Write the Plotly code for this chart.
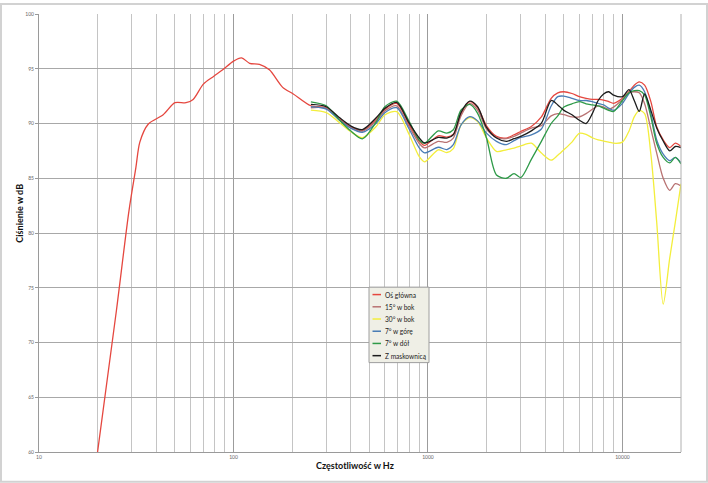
import plotly.graph_objects as go

# ---------------- data ----------------
freq_lf = [20, 25, 29, 31.5, 33, 36.5, 43.5, 50, 57, 62, 70, 79, 88, 100, 110, 121, 136, 153, 179, 203]
main_lf = [60.0, 72.9, 82.0, 86.0, 88.3, 89.95, 90.8, 91.9, 91.9, 92.2, 93.6, 94.3, 94.9, 95.7, 96.0, 95.5, 95.4, 94.9, 93.3, 92.7]

freq_hf = [250, 300, 350, 400, 460, 540, 600, 690, 800, 900, 960, 1130, 1250, 1350, 1480, 1640, 1800,
           2000, 2250, 2530, 2770, 3000, 3400, 3830, 4300, 4650, 5000, 5500, 6000, 6500, 7000, 7500,
           8000, 8500, 9000, 10000, 10800, 11500, 12200, 13000, 14000, 15000, 16200, 17500, 18700, 20000]

main_hf = [91.62, 91.44, 90.4, 89.7, 89.35, 90.35, 91.29, 91.83, 89.9, 88.4, 88.0, 88.88, 88.76, 89.03, 90.93, 91.99, 91.44,
           89.79, 88.82, 88.67, 88.97, 89.27, 89.73, 90.6, 92.3, 92.8, 92.9, 92.74, 92.45, 92.3, 92.2, 92.2,
           92.14, 92.0, 91.84, 92.3, 92.9, 93.5, 93.8, 93.5, 92.0, 89.7, 88.5, 87.8, 88.2, 87.9]

side15_hf = [91.44, 91.38, 90.33, 89.64, 89.3, 90.2, 91.14, 91.62, 89.7, 88.2, 87.77, 88.37, 88.28, 88.67, 90.72, 91.83, 91.23,
             89.49, 88.73, 88.61, 88.82, 89.12, 89.58, 89.8, 90.7, 90.9, 90.8, 90.6, 90.6, 90.9, 91.3, 91.6,
             91.5, 91.3, 91.5, 92.2, 92.8, 92.9, 92.8, 91.8, 89.5, 87.3, 85.0, 83.9, 84.5, 84.3]

side30_hf = [91.23, 91.0, 90.1, 89.27, 88.7, 89.7, 90.78, 91.08, 89.0, 87.0, 86.5, 87.6, 87.35, 87.7, 89.88, 90.54, 90.18,
             88.67, 87.45, 87.6, 87.75, 87.95, 88.2, 87.3, 86.65, 87.1, 87.6, 88.3, 89.1, 89.0, 88.7, 88.5,
             88.4, 88.3, 88.2, 88.3, 89.3, 90.6, 91.2, 90.9, 87.2, 81.0, 73.5, 77.7, 81.0, 84.5]

up7_hf = [91.53, 91.32, 90.33, 89.58, 89.2, 90.0, 90.99, 91.44, 89.5, 87.8, 87.32, 87.83, 87.62, 88.07, 89.88, 90.63, 90.24,
          89.12, 88.37, 88.07, 88.43, 88.73, 88.97, 89.5, 91.6, 92.45, 92.5, 92.3, 92.1, 92.1, 92.0, 91.84,
          91.7, 91.4, 91.2, 91.84, 92.74, 93.3, 93.5, 92.9, 90.9, 88.5, 87.2, 86.6, 86.9, 86.4]

down7_hf = [91.98, 91.62, 90.33, 89.33, 88.6, 90.1, 91.53, 92.04, 90.2, 88.5, 88.2, 89.33, 89.12, 89.43, 91.23, 91.74, 90.93,
            88.67, 85.30, 85.0, 85.42, 85.06, 86.72, 88.37, 90.0, 90.7, 91.5, 91.8, 92.0, 91.8, 91.7, 91.6,
            91.4, 91.2, 91.1, 92.1, 92.8, 93.0, 93.0, 92.6, 90.6, 88.2, 86.9, 86.4, 86.9, 86.3]

grille_hf = [91.74, 91.53, 90.54, 89.79, 89.45, 90.5, 91.38, 91.92, 90.05, 88.7, 88.22, 88.73, 88.67, 88.97, 91.02, 92.04, 91.53,
             89.64, 88.67, 88.37, 88.61, 88.82, 89.33, 90.03, 92.1, 91.7, 91.2, 90.8, 90.3, 90.0, 90.9, 92.1,
             92.7, 92.9, 92.6, 92.45, 93.1, 92.1, 91.1, 92.7, 91.2, 89.6, 88.4, 87.5, 87.9, 87.8]

series_names = ["Oś główna", "15° w bok", "30° w bok", "7° w górę", "7° w dół", "Z maskownicą"]
series_colors = ["#e5473f", "#b87272", "#f3ee3c", "#4a7db5", "#2e9a48", "#1c1c1c"]

x_decade_labels = [10, 100, 1000, 10000]
y_ticks = [60, 65, 70, 75, 80, 85, 90, 95, 100]

# ---------------- figure ----------------
W, H = 708, 483
L, R, T, B = 39, 27, 11, 31
PW, PH = W - L - R, H - T - B


def px_x(p):
    return (p - L) / PW


def px_y(p):
    return (H - B - p) / PH


fig = go.Figure()

series_x = [freq_lf + freq_hf] + [freq_hf] * 5
series_y = [main_lf + main_hf, side15_hf, side30_hf, up7_hf, down7_hf, grille_hf]

for name, xs, ys, col in zip(series_names, series_x, series_y, series_colors):
    fig.add_trace(go.Scatter(
        x=xs, y=ys, name=name, mode="lines",
        line=dict(color=col, width=1.3, shape="spline", smoothing=0.8),
        showlegend=False,
    ))

minor_vals = [m * 10 ** e for e in range(1, 5) for m in range(2, 10) if m * 10 ** e <= 20000]

fig.update_xaxes(
    type="log", range=[1, 4.30103],
    tickvals=x_decade_labels, ticktext=[str(v) for v in x_decade_labels],
    showgrid=True, gridcolor="#9c9c9c", gridwidth=1,
    minor=dict(tickvals=minor_vals, showgrid=True, gridcolor="#c4c4c4", gridwidth=1, ticks=""),
    showline=True, linecolor="#9a9a9a", linewidth=1,
    ticks="", tickfont=dict(family="Lato, Open Sans, sans-serif", size=5, color="#666666"),
    zeroline=False, mirror=False,
)
fig.update_yaxes(
    range=[60, 100], tickvals=y_ticks, ticktext=[str(v) for v in y_ticks],
    showgrid=True, gridcolor="#a8a8a8", gridwidth=1,
    showline=True, linecolor="#9a9a9a", linewidth=1,
    ticks="outside", ticklen=3, tickcolor="#9a9a9a",
    tickfont=dict(family="Lato, Open Sans, sans-serif", size=5, color="#666666"),
    zeroline=False,
)

shapes = []
# outer frame of the image
shapes.append(dict(type="rect", xref="paper", yref="paper",
                   x0=px_x(1), x1=px_x(707), y0=px_y(482), y1=px_y(1),
                   line=dict(color="#d2d2d2", width=2), fillcolor="rgba(0,0,0,0)", layer="above"))
# right edge line (20 kHz)
shapes.append(dict(type="line", xref="paper", yref="paper", x0=1, x1=1, y0=0, y1=1,
                   line=dict(color="#b0b0b0", width=1)))

# manual legend
lg_x0, lg_x1, lg_y0, lg_y1 = 369, 429, 286, 362
shapes.append(dict(type="rect", xref="paper", yref="paper",
                   x0=px_x(lg_x0), x1=px_x(lg_x1), y0=px_y(lg_y1), y1=px_y(lg_y0),
                   line=dict(color="#9e9e9e", width=1), fillcolor="#efefe6", layer="above"))
annotations = []
for i, (name, col) in enumerate(zip(series_names, series_colors)):
    yy = 293.5 + i * 12.3
    shapes.append(dict(type="line", xref="paper", yref="paper",
                       x0=px_x(372.5), x1=px_x(381), y0=px_y(yy), y1=px_y(yy),
                       line=dict(color=col, width=1.5), layer="above"))
    annotations.append(dict(text=name, xref="paper", yref="paper", x=px_x(382.5), y=px_y(yy),
                            xanchor="left", yanchor="middle", showarrow=False,
                            font=dict(family="Lato, Open Sans, sans-serif", size=6.6, color="#222222")))

annotations.append(dict(text="<b>Ciśnienie w dB</b>", xref="paper", yref="paper",
                        x=px_x(20), y=px_y(212), textangle=-90, showarrow=False,
                        xanchor="center", yanchor="middle",
                        font=dict(family="Lato, Open Sans, sans-serif", size=9, color="#111111")))
annotations.append(dict(text="<b>Częstotliwość w Hz</b>", xref="paper", yref="paper",
                        x=px_x(355), y=px_y(466), showarrow=False,
                        xanchor="center", yanchor="middle",
                        font=dict(family="Lato, Open Sans, sans-serif", size=9, color="#111111")))

fig.update_layout(
    width=W, height=H,
    margin=dict(l=L, r=R, t=T, b=B, pad=0),
    paper_bgcolor="white", plot_bgcolor="white",
    showlegend=False,
    shapes=shapes, annotations=annotations,
)

fig.write_html("out.html", config={"displayModeBar": False},
               post_script="document.body.style.margin='0';document.body.style.padding='0';")
